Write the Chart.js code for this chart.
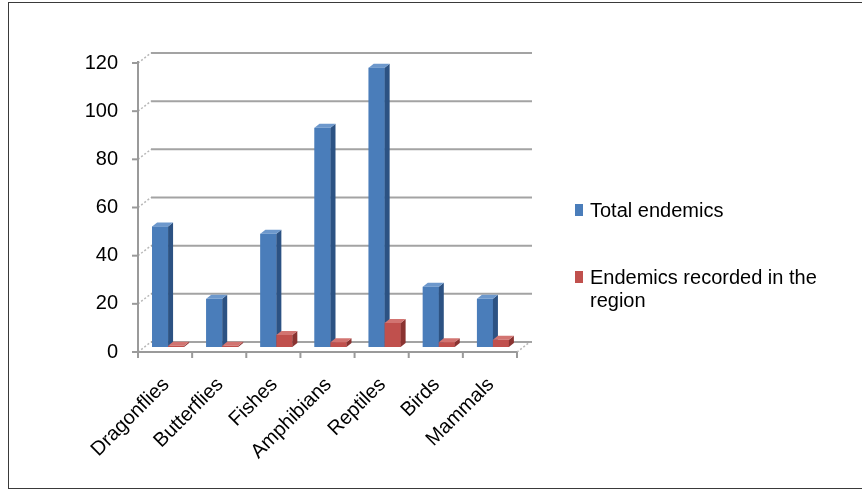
<!DOCTYPE html>
<html>
<head>
<meta charset="utf-8">
<script src="https://cdn.jsdelivr.net/npm/chart.js@4.4.1/dist/chart.umd.min.js"></script>
<style>
  html, body { margin: 0; padding: 0; background: #fff; }
  #wrap { position: relative; width: 862px; height: 492px; }
</style>
</head>
<body>
<div id="wrap"><canvas id="endemicsChart" width="862" height="492"></canvas></div>
<script>
const categories = ['Dragonflies', 'Butterflies', 'Fishes', 'Amphibians', 'Reptiles', 'Birds', 'Mammals'];
const totalEndemics = [50, 20, 47, 91, 116, 25, 20];
const regionEndemics = [0.5, 0.5, 5, 2, 10, 2, 3];
const seriesNames = ['Total endemics', 'Endemics recorded in the region'];

const FONT = '"Liberation Sans", Arial, sans-serif';
const FONT_SIZE = 20;

// colours for front / side / top faces
const faces = [
    { front: '#4a7dba', side: '#2c5283', top: '#6d98cc' },
    { front: '#c0504d', side: '#8a3331', top: '#d27471' }
];

// depth offsets of the fake 3D look
const BAR_DX = 3, BAR_DY = -5;     // bars sit a bit behind the front axes
const SIDE_DX = 5, SIDE_DY = 4;     // bar side/top depth
const WALL_DX = 13, WALL_DY = 10;   // back wall gridlines

const threeD = {
    id: 'threeD',
    beforeDatasetsDraw(chart) {
        const ctx = chart.ctx;
        const { left, right, top, bottom } = chart.chartArea;
        const y = chart.scales.y;
        const ticks = y.ticks.map(t => t.value);

        ctx.save();
        // back wall gridlines
        ticks.forEach(v => {
            const py = y.getPixelForValue(v);
            ctx.strokeStyle = '#a3a3a3';
            ctx.lineWidth = 2;
            ctx.beginPath();
            ctx.moveTo(left + WALL_DX, py - WALL_DY);
            ctx.lineTo(right + WALL_DX + 2, py - WALL_DY);
            ctx.stroke();
            // short diagonal from the front axis to the wall
            ctx.strokeStyle = '#b8b8b8';
            ctx.lineWidth = 1.5;
            ctx.setLineDash([2, 2]);
            ctx.beginPath();
            ctx.moveTo(left, py);
            ctx.lineTo(left + WALL_DX, py - WALL_DY);
            ctx.stroke();
            ctx.setLineDash([]);
            // tick mark
            ctx.strokeStyle = '#9a9a9a';
            ctx.lineWidth = 2;
            ctx.beginPath();
            ctx.moveTo(left - 6, py);
            ctx.lineTo(left, py);
            ctx.stroke();
        });
        // right floor diagonal
        ctx.strokeStyle = '#b8b8b8';
        ctx.lineWidth = 1.5;
        ctx.setLineDash([2, 2]);
        ctx.beginPath();
        ctx.moveTo(right, bottom);
        ctx.lineTo(right + WALL_DX, bottom - WALL_DY);
        ctx.stroke();
        ctx.setLineDash([]);

        // front axes
        ctx.strokeStyle = '#9a9a9a';
        ctx.lineWidth = 2;
        ctx.beginPath();
        ctx.moveTo(left, top - 2);
        ctx.lineTo(left, bottom);
        ctx.lineTo(right, bottom);
        ctx.stroke();
        const step = (right - left) / categories.length;
        for (let i = 0; i <= categories.length; i++) {
            const px = left + i * step;
            ctx.beginPath();
            ctx.moveTo(px, bottom);
            ctx.lineTo(px, bottom + 6);
            ctx.stroke();
        }
        ctx.restore();

        ctx.save();
        ctx.translate(BAR_DX, BAR_DY);
    },
    afterDatasetsDraw(chart) {
        const ctx = chart.ctx;
        for (let i = 0; i < categories.length; i++) {
            chart.data.datasets.forEach((ds, d) => {
                const el = chart.getDatasetMeta(d).data[i];
                const { x, y, base, width } = el.getProps(['x', 'y', 'base', 'width'], true);
                const l = x - width / 2, r = x + width / 2;
                const f = faces[d];
                ctx.fillStyle = f.front;
                ctx.fillRect(l, y, width, base - y);
                ctx.fillStyle = f.side;
                ctx.beginPath();
                ctx.moveTo(r, y);
                ctx.lineTo(r + SIDE_DX, y - SIDE_DY);
                ctx.lineTo(r + SIDE_DX, base - SIDE_DY);
                ctx.lineTo(r, base);
                ctx.closePath();
                ctx.fill();
                ctx.fillStyle = f.top;
                ctx.beginPath();
                ctx.moveTo(l, y);
                ctx.lineTo(l + SIDE_DX, y - SIDE_DY);
                ctx.lineTo(r + SIDE_DX, y - SIDE_DY);
                ctx.lineTo(r, y);
                ctx.closePath();
                ctx.fill();
            });
        }
        ctx.restore();
    },
    afterDraw(chart) {
        const ctx = chart.ctx;
        ctx.save();
        // outer frame (right edge runs off the picture)
        ctx.strokeStyle = '#3a3a3a';
        ctx.lineWidth = 1;
        ctx.strokeRect(8.5, 2.5, 900, 486);

        // legend
        ctx.font = FONT_SIZE + 'px ' + FONT;
        ctx.textBaseline = 'alphabetic';
        const legendY = [217, 284];
        chart.data.datasets.forEach((ds, d) => {
            ctx.fillStyle = faces[d].front;
            ctx.fillRect(575, legendY[d] - 13, 8, 12);
            ctx.fillStyle = '#000';
            const words = ds.label.split(' ');
            let line = '', ly = legendY[d];
            words.forEach(w => {
                const test = line ? line + ' ' + w : w;
                if (ctx.measureText(test).width > 250 && line) {
                    ctx.fillText(line, 590, ly);
                    line = w;
                    ly += 23;
                } else {
                    line = test;
                }
            });
            ctx.fillText(line, 590, ly);
        });
        ctx.restore();
    }
};

new Chart(document.getElementById('endemicsChart').getContext('2d'), {
    type: 'bar',
    data: {
        labels: categories,
        datasets: [
            { label: seriesNames[0], data: totalEndemics, backgroundColor: faces[0].front },
            { label: seriesNames[1], data: regionEndemics, backgroundColor: faces[1].front }
        ]
    },
    options: {
        responsive: false,
        animation: false,
        devicePixelRatio: 1,
        layout: { padding: { left: 78, right: 345, top: 63, bottom: 0 } },
        datasets: { bar: { categoryPercentage: 0.59, barPercentage: 1.0 } },
        plugins: { legend: { display: false }, tooltip: { enabled: false } },
        scales: {
            x: {
                grid: { display: false, drawTicks: false },
                border: { display: false },
                ticks: {
                    color: '#000',
                    font: { family: FONT, size: FONT_SIZE },
                    minRotation: 45,
                    maxRotation: 45,
                    autoSkip: false,
                    padding: 21,
                    labelOffset: 1
                },
                afterFit(scale) { scale.height = 140; }
            },
            y: {
                min: 0,
                max: 120,
                grid: { display: false, drawTicks: false },
                border: { display: false },
                ticks: {
                    stepSize: 20,
                    color: '#000',
                    font: { family: FONT, size: FONT_SIZE },
                    padding: 20
                },
                afterFit(scale) { scale.width = 60; }
            }
        }
    },
    plugins: [threeD]
});
</script>
</body>
</html>
